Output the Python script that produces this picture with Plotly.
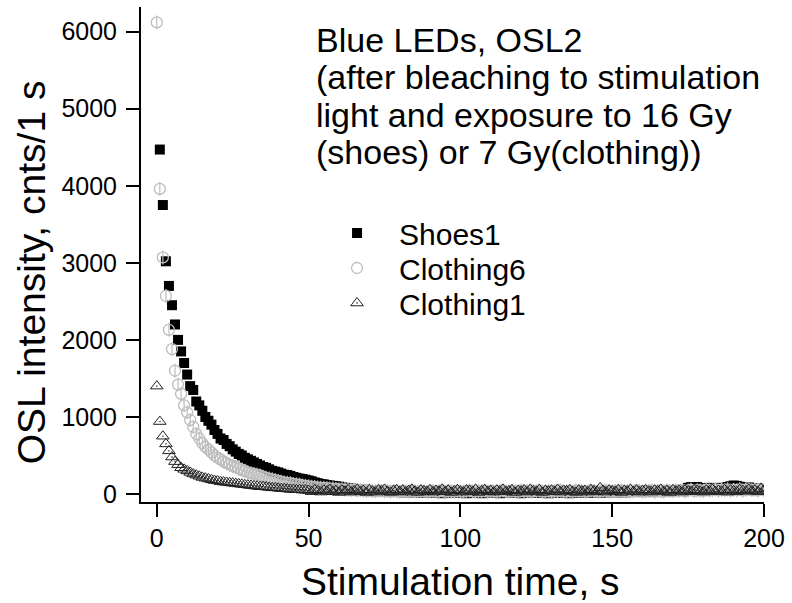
import plotly.graph_objects as go

time_s = list(range(0, 201))

shoes1 = [
    None, 4470, 3750, 3020, 2700, 2450, 2200, 2000, 1850, 1700,
    1550, 1400, 1350, 1200, 1150, 1080, 1000, 950, 900, 830,
    780, 720, 700, 650, 620, 580, 550, 520, 500, 470,
    450, 430, 410, 390, 370, 350, 340, 320, 300, 290,
    280, 265, 250, 245, 235, 220, 210, 200, 195, 185,
    175, 165, 150, 140, 130, 125, 115, 110, 105, 100,
    95, 85, 80, 75, 70, 65, 60, 55, 55, 50,
    45, 45, 40, 40, 35, 40, 30, 35, 30, 30,
    25, 30, 20, 25, 30, 20, 25, 15, 20, 25,
    20, 15, 25, 20, 10, 20, 15, 20, 25, 15,
    20, 15, 10, 20, 25, 15, 20, 10, 15, 20,
    25, 15, 20, 10, 20, 15, 25, 20, 15, 20,
    10, 20, 25, 15, 20, 15, 20, 25, 15, 10,
    20, 15, 25, 20, 15, 20, 10, 25, 20, 15,
    20, 25, 15, 20, 30, 20, 15, 25, 20, 30,
    25, 20, 30, 25, 20, 30, 25, 35, 30, 25,
    30, 35, 25, 40, 30, 35, 40, 30, 45, 40,
    50, 45, 40, 55, 60, 80, 90, 85, 90, 70,
    60, 75, 80, 70, 65, 75, 80, 70, 90, 100,
    110, 105, 95, 70, 80, 85, 75, 60, 70, 65,
    60,
]

clothing6 = [
    6120, 3960, 3070, 2570, 2130, 1880, 1600, 1420, 1300, 1150,
    1060, 960, 870, 780, 720, 660, 610, 580, 540, 500,
    470, 450, 420, 400, 380, 360, 350, 330, 310, 300,
    280, 270, 260, 250, 240, 225, 210, 200, 190, 180,
    170, 160, 150, 145, 140, 130, 125, 120, 110, 105,
    100, 95, 90, 85, 80, 80, 75, 70, 70, 65,
    60, 60, 55, 55, 50, 55, 45, 50, 45, 40,
    45, 40, 35, 45, 40, 35, 40, 30, 40, 35,
    30, 40, 35, 30, 45, 35, 30, 40, 35, 30,
    35, 40, 30, 35, 45, 30, 40, 35, 30, 40,
    35, 30, 40, 45, 35, 30, 40, 35, 45, 30,
    40, 35, 30, 40, 45, 35, 30, 40, 35, 30,
    45, 35, 40, 30, 35, 40, 45, 30, 35, 40,
    30, 40, 35, 45, 30, 35, 40, 30, 45, 35,
    40, 30, 35, 45, 40, 30, 35, 40, 45, 30,
    35, 40, 30, 45, 35, 40, 30, 35, 45, 40,
    30, 35, 40, 45, 30, 40, 35, 30, 45, 40,
    35, 45, 40, 50, 35, 45, 55, 40, 50, 45,
    40, 55, 45, 50, 60, 45, 55, 50, 60, 45,
    55, 50, 60, 45, 55, 60, 50, 55, 45, 60,
    50,
]

clothing1 = [
    1400, 940, 750, 650, 560, 480, 420, 380, 340, 320,
    300, 280, 260, 245, 230, 215, 205, 195, 185, 175,
    170, 160, 155, 150, 145, 140, 135, 130, 125, 120,
    115, 110, 105, 100, 95, 95, 90, 85, 80, 80,
    75, 70, 70, 65, 60, 60, 55, 55, 50, 50,
    45, 30, 55, 40, 25, 50, 35, 60, 30, 45,
    20, 50, 35, 55, 25, 40, 60, 30, 45, 20,
    55, 35, 25, 50, 40, 60, 30, 20, 45, 55,
    30, 50, 25, 45, 60, 35, 20, 50, 40, 30,
    55, 25, 45, 35, 60, 30, 50, 20, 40, 55,
    35, 25, 50, 45, 30, 60, 20, 40, 55, 30,
    45, 25, 50, 35, 60, 30, 40, 55, 20, 45,
    35, 50, 25, 60, 40, 30, 55, 20, 45, 35,
    50, 30, 60, 25, 45, 40, 55, 30, 20, 50,
    35, 45, 25, 55, 40, 30, 80, 45, 25, 50,
    40, 30, 55, 20, 45, 35, 60, 30, 50, 25,
    45, 55, 35, 25, 50, 40, 60, 30, 45, 20,
    55, 35, 45, 25, 50, 40, 30, 55, 45, 35,
    25, 50, 40, 60, 30, 45, 35, 55, 25, 50,
    40, 30, 55, 45, 35, 60, 40, 50, 30, 70,
    45,
]

series_names = ["Shoes1", "Clothing6", "Clothing1"]
x_ticks = [0, 50, 100, 150, 200]
y_ticks = [0, 1000, 2000, 3000, 4000, 5000, 6000]
note_lines = [
    "Blue LEDs, OSL2",
    "(after bleaching to stimulation",
    "light and exposure to 16 Gy",
    "(shoes) or 7 Gy(clothing))",
]
x_title = "Stimulation time, s"
y_title = "OSL intensity, cnts/1 s"

FONT = "Liberation Sans, Arial, sans-serif"
LEG_FONT = 30
NOTE_FONT = 34
TITLE_FONT = 39

fig = go.Figure()
fig.add_trace(go.Scatter(
    x=time_s, y=shoes1, mode="markers", name=series_names[0], legend="legend",
    marker=dict(symbol="square", size=10, color="black", line=dict(width=0)),
))
fig.add_trace(go.Scatter(
    x=time_s, y=clothing6, mode="markers", name=series_names[1], legend="legend2",
    marker=dict(symbol="circle-open", size=11, color="#bdbdbd", line=dict(width=1.3, color="#bdbdbd")),
))
fig.add_trace(go.Scatter(
    x=time_s, y=clothing6, mode="markers", name=series_names[1], showlegend=False,
    marker=dict(symbol="line-ns-open", size=10, color="#bdbdbd", line=dict(width=1.2, color="#bdbdbd")),
    hoverinfo="skip",
))
fig.add_trace(go.Scatter(
    x=time_s, y=clothing1, mode="markers", name=series_names[2], legend="legend3",
    marker=dict(symbol="triangle-up-open-dot", size=11, color="#222222", line=dict(width=1.0, color="#222222")),
))

# plot area: x px 141..771, y px 7..502
def py(p):
    return (502 - p) / 495.0

def px(p):
    return (p - 141) / 630.0

legend_common = dict(
    xanchor="left", yanchor="middle",
    font=dict(size=LEG_FONT, family=FONT, color="black"),
    bgcolor="rgba(0,0,0,0)", itemwidth=74,
)
leg_x = px(317)

annotations = [
    dict(x=px(316), y=py(yp), xref="paper", yref="paper",
         xanchor="left", yanchor="middle", align="left", showarrow=False,
         text=line, font=dict(size=NOTE_FONT, family=FONT, color="black"))
    for line, yp in zip(note_lines, [40, 77, 115, 152])
]
annotations.append(dict(
    x=px(30), y=py(272), xref="paper", yref="paper", xanchor="center", yanchor="middle",
    showarrow=False, textangle=-90, text=y_title,
    font=dict(size=TITLE_FONT, family=FONT, color="black"),
))
annotations.append(dict(
    x=px(464), y=py(581), xref="paper", yref="paper", xanchor="center", yanchor="middle",
    showarrow=False, text=x_title,
    font=dict(size=TITLE_FONT, family=FONT, color="black"),
))

fig.update_layout(
    width=792, height=603,
    margin=dict(l=141, r=21, t=7, b=101),
    paper_bgcolor="white", plot_bgcolor="white",
    font=dict(family=FONT, color="black", size=22),
    showlegend=True,
    legend=dict(x=leg_x, y=py(233), **legend_common),
    legend2=dict(x=leg_x, y=py(268), **legend_common),
    legend3=dict(x=leg_x, y=py(303), **legend_common),
    annotations=annotations,
)

fig.update_xaxes(
    range=[-5.2, 200], tickvals=x_ticks, ticktext=[str(v) for v in x_ticks],
    showline=True, linecolor="black", linewidth=2, showgrid=False, zeroline=False,
    ticks="outside", ticklen=13, tickwidth=2, tickcolor="black",
    tickfont=dict(size=25, family=FONT),
)
fig.update_yaxes(
    range=[-104, 6320], tickvals=y_ticks, ticktext=[str(v) for v in y_ticks],
    showline=True, linecolor="black", linewidth=2, showgrid=False, zeroline=False,
    ticks="outside", ticklen=13, tickwidth=2, tickcolor="black",
    tickfont=dict(size=25, family=FONT), ticklabelstandoff=4,
)

fig.write_html("out.html")
